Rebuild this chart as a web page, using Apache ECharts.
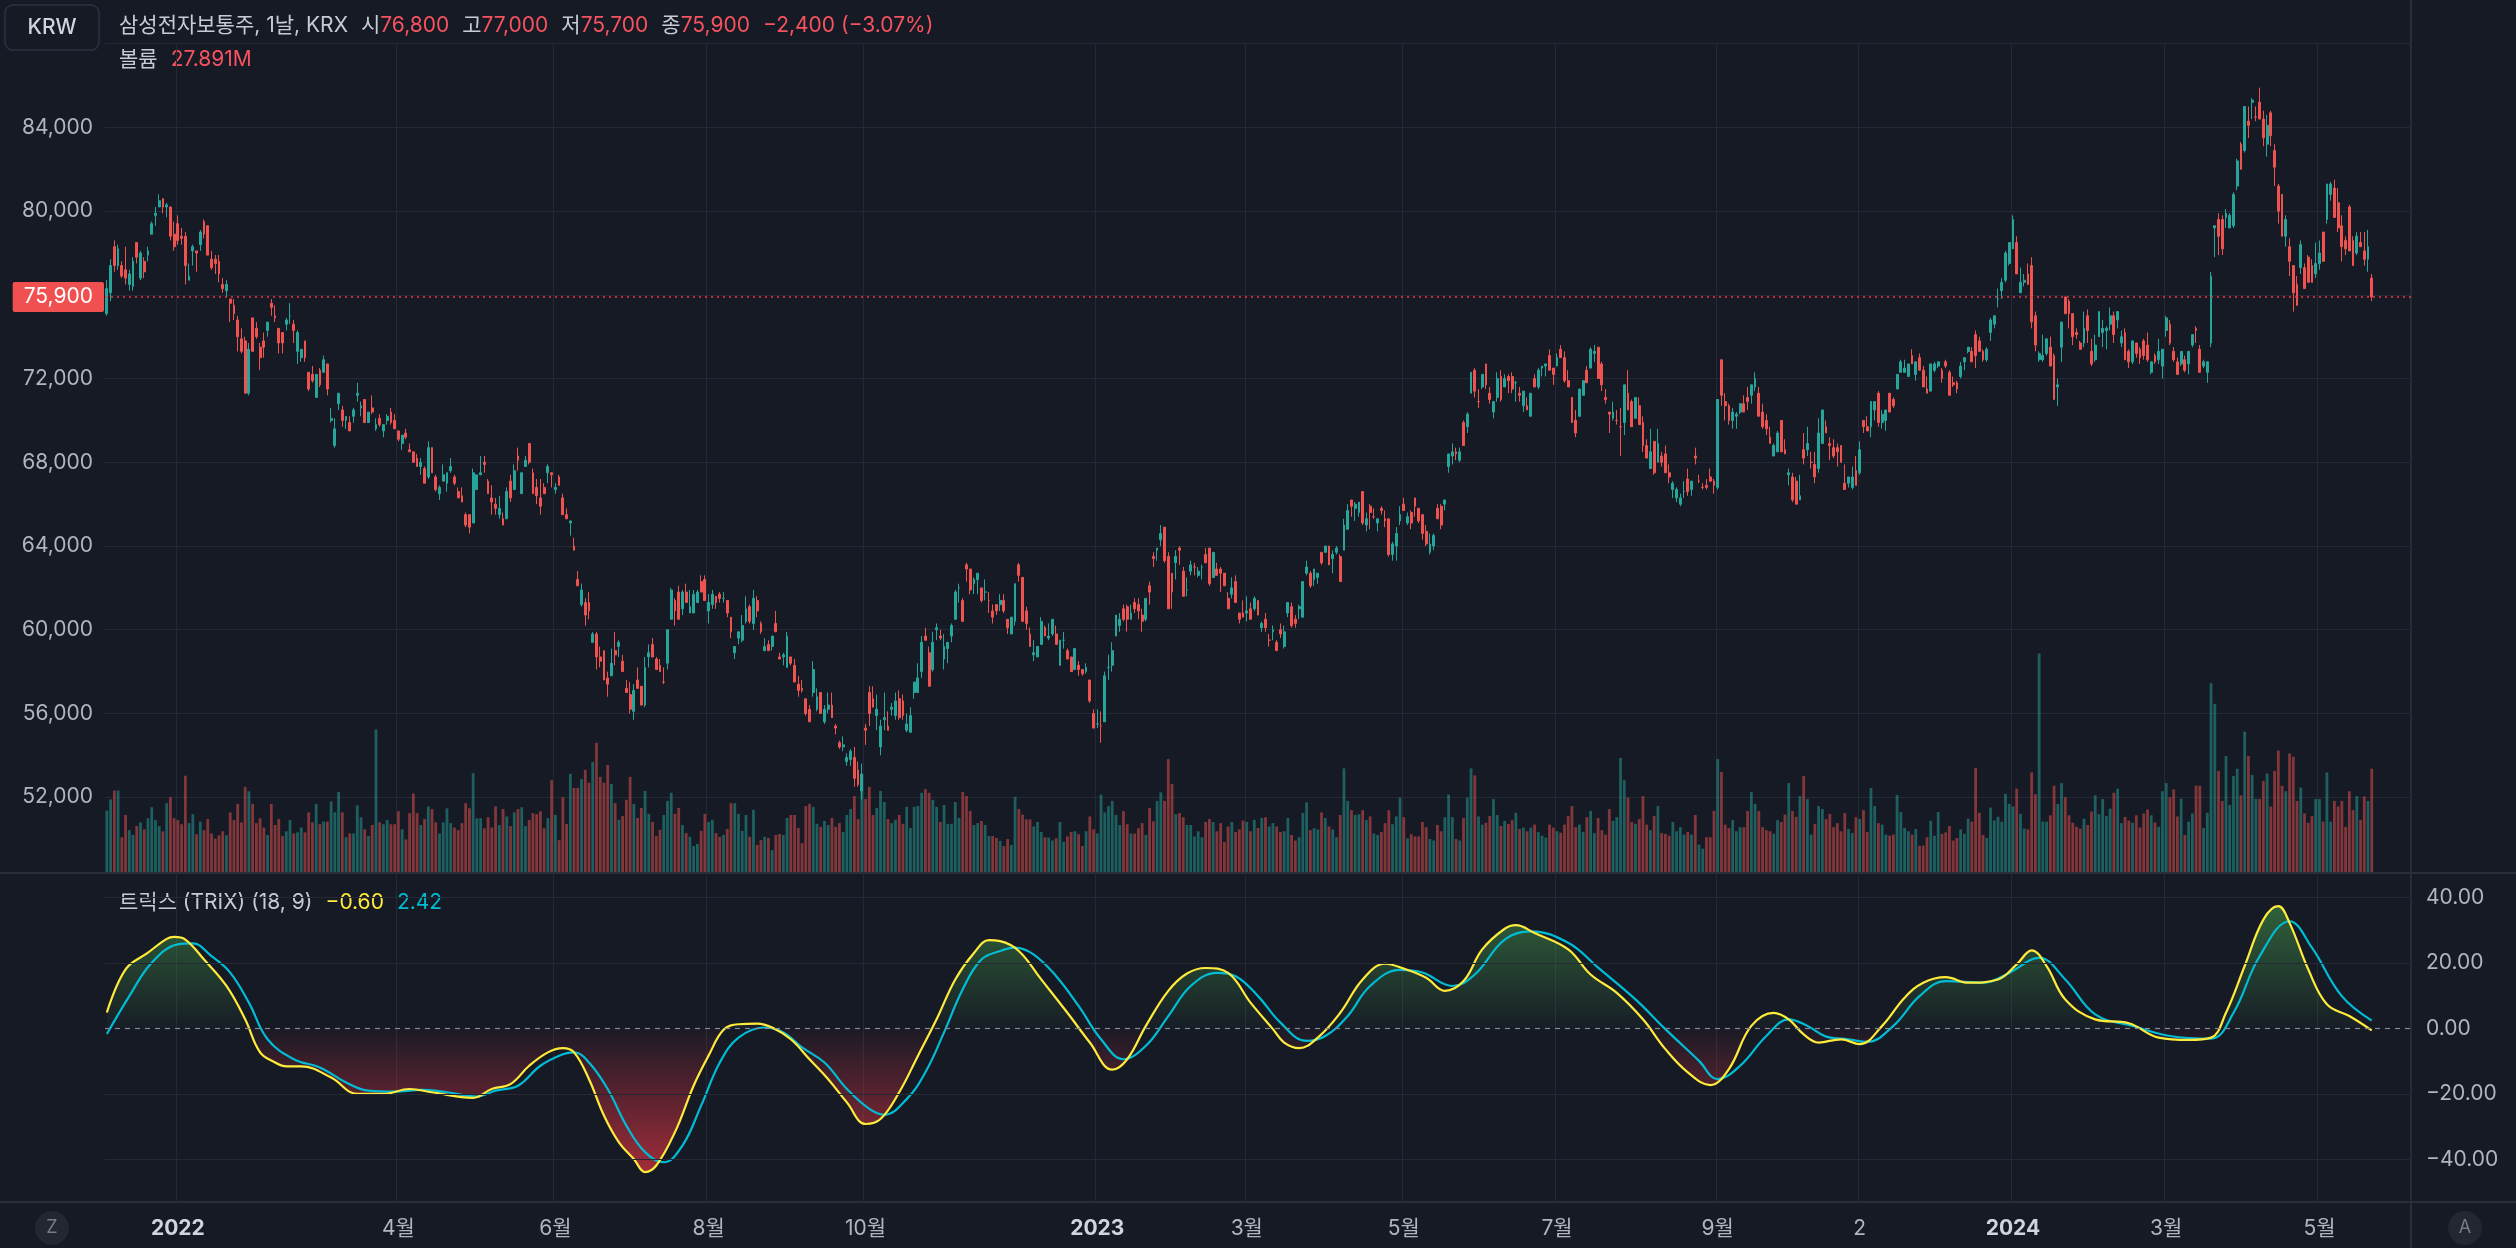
<!DOCTYPE html>
<html>
<head>
<meta charset="utf-8">
<title>삼성전자보통주 1날 TRIX</title>
<script src="https://cdn.jsdelivr.net/npm/echarts@6/dist/echarts.min.js"></script>
<style>
  html, body { margin: 0; padding: 0; background: #161a25; }
  #chart { width: 2516px; height: 1248px; }
</style>
</head>
<body>
<div id="chart"></div>
<script>
// daily prices, thousands of KRW (2021-12-06 .. 2024-05-24)
const opens = [
  75.1,76.1,78.3,77.4,77.4,77.2,76.5,76.4,78.5,76.8, 77.6,77.9,78.9,79.8,80.2,80.6,80.2,80.2,78.9,79.4,
  78.8,78.8,76.7,78.1,78.1,78.4,79.5,79.3,77.7,77.7, 77.6,76.5,76.2,75.8,75.5,74.8,73.9,73.8,71.3,74.9,
  74.4,73.5,73.8,74.3,75.6,75.0,74.4,74.2,74.6,75.0, 74.6,73.3,73.0,73.8,72.3,72.2,71.1,72.4,72.3,72.7,
  70.0,68.8,70.8,70.5,70.0,69.9,70.2,71.2,70.6,71.0, 69.9,70.6,69.6,70.1,69.5,70.0,70.4,70.0,69.5,68.9,
  69.4,68.6,68.5,68.2,67.8,67.7,67.3,68.7,67.3,66.5, 67.1,67.0,67.6,67.3,66.6,66.4,65.5,65.5,65.1,66.7,
  67.4,68.0,67.1,66.3,66.0,65.5,65.3,65.3,67.1,66.7, 68.3,66.5,67.8,68.9,67.5,66.8,66.3,66.8,67.5,67.5,
  66.7,67.3,66.3,65.5,65.1,64.0,62.4,61.2,61.3,61.3, 59.4,59.8,58.7,59.0,57.7,57.8,59.0,59.2,58.5,57.2,
  56.9,56.1,57.6,57.3,56.4,58.7,59.3,58.6,58.3,57.5, 58.4,60.5,61.4,61.8,61.0,61.8,60.8,60.8,61.3,62.3,
  62.4,60.9,61.2,61.6,61.7,61.5,61.4,60.6,58.9,59.6, 59.5,60.4,61.1,60.3,61.4,60.3,59.0,59.3,59.2,60.3,
  58.7,58.7,58.2,58.7,58.3,57.4,57.2,56.7,56.2,57.0, 56.2,57.0,55.6,56.2,56.4,55.4,54.6,54.4,53.7,53.8,
  53.9,53.3,52.3,55.3,57.0,56.7,55.9,54.4,55.7,55.4, 56.2,55.9,56.7,56.6,55.2,55.1,57.0,57.0,58.0,59.7,
  58.9,58.1,60.0,59.7,58.6,59.1,59.7,60.5,62.0,61.4, 63.1,62.9,62.2,62.4,62.0,61.8,61.4,60.9,61.2,61.2,
  61.4,60.5,59.8,60.4,63.1,62.5,60.9,59.8,58.8,58.7, 59.3,60.1,59.6,59.8,59.8,58.3,59.5,59.0,58.7,58.1,
  58.3,58.1,58.0,57.6,56.0,55.5,55.4,55.6,58.2,58.3, 59.7,60.2,61.0,61.1,60.5,61.3,61.2,60.7,60.5,62.1,
  63.5,63.8,64.3,64.9,63.5,62.7,63.2,63.9,62.8,61.9, 62.8,63.0,62.6,63.0,63.6,63.9,62.5,62.9,62.9,62.7,
  61.5,61.7,62.3,60.8,60.8,60.8,61.0,61.0,61.4,60.1, 60.5,59.5,59.9,59.4,60.0,59.2,60.8,61.1,60.5,61.0,
  60.6,62.7,62.7,62.4,62.5,63.7,63.7,64.0,63.4,63.7, 63.5,63.8,64.8,66.2,65.8,65.6,66.6,65.0,65.9,65.4,
  65.1,65.8,65.3,65.3,63.6,64.0,65.2,66.0,65.1,65.6, 66.3,65.8,65.5,64.7,63.7,64.0,65.8,65.9,66.0,67.8,
  68.3,68.5,68.1,69.9,69.7,71.3,72.4,70.9,71.6,72.7, 71.3,70.4,71.1,72.1,71.6,72.1,72.1,71.8,71.3,70.7,
  70.7,70.2,72.0,71.6,72.5,72.6,73.1,72.5,72.6,73.4, 73.0,71.9,71.1,70.0,70.2,71.2,72.4,72.5,73.2,73.5,
  72.7,71.1,70.4,70.1,70.0,69.7,69.9,71.3,70.9,70.1, 70.7,69.9,68.8,67.7,69.0,68.0,68.3,68.4,67.5,66.7,
  66.3,66.0,66.6,67.2,66.7,68.3,67.1,66.8,66.9,67.3, 67.1,66.8,72.9,70.9,70.7,70.0,70.2,70.4,70.8,71.1,
  71.2,71.6,71.3,70.4,70.0,69.2,68.3,68.5,70.0,68.6, 67.4,67.3,67.1,66.2,68.6,68.6,68.0,67.9,67.7,68.9,
  69.7,68.9,68.7,68.7,68.8,67.0,67.0,66.8,67.6,67.5, 70.0,69.7,69.7,70.5,71.3,69.9,70.0,71.3,71.0,71.5,
  72.3,72.3,72.1,73.1,72.2,73.0,72.4,71.5,71.4,72.4, 72.6,72.4,72.8,72.3,71.8,71.8,72.1,72.8,73.3,73.3,
  74.1,73.8,73.3,72.9,74.2,74.6,75.8,76.2,76.7,77.5, 78.2,78.5,76.1,76.6,77.0,77.4,75.0,72.9,72.9,73.2,
  73.5,73.1,71.6,73.5,75.9,75.7,75.1,74.2,73.7,73.7, 75.0,73.3,72.9,74.0,74.2,74.3,74.6,75.0,74.8,73.7,
  74.2,73.3,72.8,73.7,73.4,73.8,73.6,72.3,73.1,72.9, 72.6,74.3,74.6,73.3,72.8,72.7,72.9,72.7,73.6,74.4,
  73.4,72.6,72.3,73.7,79.2,79.6,79.6,79.7,79.2,79.3, 81.2,83.2,82.9,84.3,85.2,84.5,85.2,84.4,83.2,84.7,
  82.9,81.2,80.8,78.8,78.3,77.4,76.5,77.3,77.3,77.8, 77.4,77.0,77.5,79.0,79.6,80.8,81.1,80.4,79.3,78.6,
  80.2,78.6,78.0,78.5,78.1,77.7,76.8
];
const highs = [
  76.7,77.7,78.6,78.4,77.6,78.3,77.2,77.8,78.5,78.1, 77.8,78.3,79.5,80.2,80.8,80.6,80.4,80.2,79.5,79.8,
  79.2,79.0,77.5,78.4,78.1,79.1,79.6,79.3,78.1,77.9, 77.9,76.8,76.7,75.8,75.8,75.0,74.4,74.0,73.7,74.9,
  74.7,73.7,74.2,74.7,75.8,75.5,74.4,74.2,74.9,75.6, 74.8,74.3,73.4,73.8,72.3,72.6,72.2,72.5,73.1,72.7,
  70.6,70.1,71.3,70.7,70.2,70.2,70.6,71.8,70.9,71.0, 70.4,71.2,70.1,70.3,69.8,70.3,70.6,70.3,69.5,69.3,
  69.6,68.9,68.5,68.4,68.2,67.8,69.0,68.7,67.4,66.9, 67.9,67.5,68.2,67.4,66.8,66.8,65.6,65.5,67.7,67.4,
  68.3,68.3,67.2,66.9,66.3,66.4,65.6,66.8,67.4,67.9, 68.7,67.5,68.3,68.9,67.7,67.2,67.2,67.0,67.9,67.5,
  67.0,67.4,66.5,65.8,65.2,64.4,62.8,62.2,61.5,61.8, 59.9,59.9,59.2,59.0,58.0,59.1,59.9,59.5,58.8,57.6,
  57.5,57.4,58.2,57.3,58.7,59.3,59.6,58.7,58.6,58.2, 60.0,62.0,61.5,62.1,61.9,62.2,61.9,61.9,61.9,62.6,
  62.6,61.7,61.9,61.6,61.8,61.8,61.4,60.6,59.2,59.9, 60.7,61.6,61.2,61.9,61.6,60.4,59.6,59.5,59.7,60.9,
  58.9,58.9,59.9,58.7,58.6,57.8,57.6,56.7,56.4,58.5, 57.2,57.0,56.4,57.0,57.0,55.5,54.7,54.9,54.1,54.3,
  54.4,53.7,53.6,55.5,57.3,57.3,56.9,55.7,57.0,56.1, 56.5,57.0,57.1,56.9,56.0,56.3,57.5,58.4,59.7,60.1,
  59.2,59.9,60.3,60.0,59.8,59.4,60.3,61.9,62.2,61.5, 63.2,62.9,62.5,62.7,62.0,62.4,61.8,61.2,61.2,61.7,
  61.7,60.5,60.6,62.2,63.2,62.5,61.1,60.1,59.5,59.2, 60.6,60.2,60.3,60.5,60.2,59.5,59.9,59.1,58.7,59.1,
  58.5,58.1,58.4,57.6,56.2,56.2,56.1,58.0,58.8,59.4, 60.7,60.8,61.2,61.2,61.2,61.5,61.5,61.0,61.5,62.3,
  63.7,63.9,65.0,64.9,63.7,62.7,63.8,64.0,63.0,62.5, 63.3,63.2,63.0,63.1,63.9,63.9,63.7,63.2,63.0,62.7,
  61.8,62.5,62.6,60.8,61.4,61.6,61.3,61.6,61.4,60.4, 60.8,59.8,60.2,59.5,60.3,60.2,61.3,61.3,60.7,61.2,
  62.3,63.3,62.8,62.9,62.7,63.7,64.0,64.0,63.8,64.0, 63.6,65.3,66.0,66.2,66.1,66.1,66.6,65.6,66.0,65.8,
  65.3,65.9,65.7,65.3,64.2,64.9,65.9,66.3,65.6,65.7, 66.3,65.8,65.5,65.0,64.6,64.6,66.0,66.0,66.2,68.4,
  68.9,68.7,68.7,70.0,70.4,72.3,72.5,71.5,72.2,72.7, 71.6,70.9,72.3,72.4,72.2,72.2,72.3,71.9,71.6,71.4,
  71.1,71.3,72.2,72.5,72.6,72.7,73.4,72.5,73.2,73.6, 73.3,72.4,71.1,70.5,71.5,71.9,72.6,73.5,73.6,73.5,
  72.8,71.5,70.4,70.9,70.5,70.6,71.7,72.4,71.0,71.1, 71.1,70.2,69.1,69.6,69.0,69.6,68.5,68.8,67.9,67.1,
  66.8,66.5,67.1,67.7,67.1,68.7,67.4,67.0,67.2,67.7, 67.2,71.0,72.9,71.3,70.8,70.6,70.4,70.8,71.2,71.6,
  71.7,72.3,71.6,70.8,70.3,69.7,68.9,69.5,70.0,69.1, 67.7,67.5,67.3,67.4,69.4,69.7,68.5,68.5,70.1,70.5,
  70.0,69.2,69.1,68.9,68.8,67.9,67.3,67.8,68.3,69.0, 70.0,70.2,70.9,70.9,71.4,70.5,70.5,71.3,71.1,72.2,
  72.9,72.9,72.7,73.4,72.8,73.2,72.6,72.1,72.7,72.8, 72.8,72.5,72.9,72.4,72.1,71.9,72.8,73.0,73.5,73.5,
  74.3,74.0,73.4,73.5,74.9,75.0,76.3,76.8,78.1,78.5, 79.8,78.8,77.3,77.0,77.5,77.8,75.2,73.3,74.1,73.9,
  74.0,73.2,72.0,74.7,75.9,75.8,75.1,74.4,73.8,75.2, 75.3,73.9,74.1,75.2,74.8,74.5,75.4,75.2,75.2,74.3,
  74.4,73.4,73.8,73.7,73.5,73.9,74.2,72.8,73.2,73.9, 73.4,75.0,74.8,73.5,73.0,73.3,73.1,73.3,74.1,74.5,
  73.6,72.9,72.8,77.1,79.3,79.9,79.8,80.1,79.9,80.9, 82.5,83.3,85.0,85.0,85.4,85.0,85.9,84.8,84.6,84.8,
  83.2,81.3,80.8,79.8,78.7,77.4,76.9,78.6,77.5,77.9, 77.7,78.5,78.6,79.0,81.3,81.4,81.5,81.1,79.8,78.8,
  80.3,78.8,79.0,79.0,79.0,79.1,77.0
];
const lows = [
  75.0,75.7,77.1,77.2,76.8,76.5,76.2,76.2,77.5,76.7, 76.8,77.6,78.9,79.3,80.2,79.9,79.7,78.6,78.1,78.4,
  78.4,76.5,76.7,77.4,77.1,78.1,78.7,77.9,77.2,77.0, 76.6,76.1,75.9,74.7,74.8,73.3,73.2,71.3,71.2,73.3,
  73.9,72.4,73.0,74.0,75.0,74.7,73.2,73.2,74.3,74.6, 73.7,72.7,72.8,72.8,71.4,71.8,71.1,71.6,72.3,71.2,
  69.9,68.7,70.5,69.7,69.6,69.5,69.9,70.9,70.2,69.9, 69.9,70.3,69.5,69.7,69.2,69.8,69.8,69.6,69.0,68.6,
  69.1,68.5,68.0,67.8,67.4,67.0,67.2,67.5,66.6,66.2, 67.1,66.6,67.5,66.9,66.3,66.1,64.9,64.6,65.1,66.7,
  67.4,67.5,66.5,65.5,65.5,65.3,65.0,65.3,66.1,66.7, 67.6,66.5,67.8,67.9,66.5,66.0,65.5,66.5,67.0,66.8,
  66.5,66.9,65.5,65.3,64.5,63.8,62.1,61.1,60.2,60.5, 59.4,58.1,58.2,57.6,56.8,57.8,58.3,58.7,58.0,57.0,
  56.0,55.7,57.2,56.4,56.3,58.2,58.7,58.1,58.0,57.4, 58.1,60.5,60.2,60.5,60.7,61.3,60.8,60.8,61.3,61.8,
  61.4,60.3,61.0,61.0,61.3,61.3,60.6,59.6,58.6,59.3, 59.4,60.3,60.3,60.0,60.6,59.8,59.0,59.0,59.0,59.9,
  58.6,58.3,58.2,58.3,57.5,56.8,57.0,55.9,55.6,56.8, 56.1,56.0,55.5,56.0,55.8,55.0,54.3,54.2,53.5,53.5,
  52.5,52.5,51.9,54.5,55.4,56.3,55.2,54.0,55.2,55.2, 55.9,55.7,55.7,55.7,55.1,55.1,56.7,57.0,57.7,59.5,
  57.3,58.0,59.5,59.5,58.1,58.4,59.4,60.5,61.3,60.4, 62.3,61.7,61.7,61.7,61.3,61.4,60.8,60.3,60.7,60.9,
  60.8,59.8,59.8,60.2,62.3,60.4,60.0,59.2,58.5,58.7, 59.3,59.7,59.5,59.7,59.3,58.3,59.1,58.6,58.0,58.1,
  57.8,57.8,57.9,56.5,55.3,55.3,54.6,55.6,57.6,58.0, 59.7,59.9,60.4,59.9,60.5,60.8,60.5,59.9,60.4,61.2,
  63.0,63.3,64.0,63.2,61.0,61.0,62.4,63.1,61.6,61.6, 62.6,62.6,62.5,62.4,63.2,62.1,62.5,62.6,61.8,62.1,
  61.0,61.5,61.3,60.3,60.6,60.4,60.5,60.9,60.7,59.9, 59.9,59.2,59.5,59.0,59.6,59.1,60.6,60.1,60.1,60.5,
  60.6,62.6,62.0,62.1,62.2,63.1,63.7,63.1,62.7,63.6, 62.3,63.8,64.8,65.4,65.2,65.4,65.0,64.7,64.8,65.3,
  64.7,65.5,64.9,63.5,63.3,63.3,65.0,65.7,65.0,64.8, 65.4,65.1,64.3,64.0,63.6,63.8,65.3,64.8,65.7,67.5,
  67.9,68.1,68.0,68.8,69.4,71.3,71.1,70.6,71.5,71.5, 70.8,70.1,70.9,70.9,71.6,71.3,71.3,70.9,70.9,70.4,
  70.5,70.2,71.6,71.5,72.1,72.1,72.4,71.7,72.6,73.0, 71.8,71.6,69.9,69.2,70.2,71.2,71.8,72.5,72.8,72.0,
  71.4,70.8,69.4,70.0,69.8,68.3,69.3,70.5,69.7,70.1, 69.8,68.5,68.2,67.7,67.4,68.0,67.8,67.5,67.0,66.3,
  66.1,65.9,66.3,66.4,66.4,67.9,67.0,66.7,66.7,67.1, 66.5,66.7,70.7,70.0,69.8,69.6,69.6,70.3,70.4,70.5,
  70.8,71.4,70.2,69.6,69.3,68.9,68.3,68.5,68.5,68.4, 66.9,66.1,66.0,66.2,67.9,68.3,67.7,67.0,67.5,68.9,
  69.4,68.1,68.2,67.8,68.0,66.7,66.8,66.7,66.9,67.4, 69.4,69.5,69.2,70.0,69.7,69.6,69.5,70.4,70.6,71.5,
  72.3,72.3,72.1,72.7,71.9,72.4,71.6,71.3,71.4,72.3, 72.5,71.8,72.5,71.2,71.6,71.3,72.0,72.4,73.2,72.8,
  72.5,73.3,72.8,72.8,73.8,74.4,75.4,75.8,76.6,77.4, 78.2,77.0,76.1,76.4,76.5,74.4,73.3,72.8,72.8,73.1,
  72.6,71.0,70.7,72.8,75.1,74.4,73.6,73.9,73.4,73.5, 73.7,72.6,72.8,74.0,73.5,73.4,74.3,73.7,74.4,73.5,
  72.9,72.5,72.7,73.0,72.7,72.9,72.8,72.2,72.7,72.7, 72.0,74.0,73.6,72.8,72.2,72.6,72.3,72.2,73.5,73.7,
  72.3,72.5,71.8,73.5,77.8,77.9,77.9,79.2,79.2,79.2, 81.0,82.0,82.8,83.5,84.4,84.3,84.4,83.1,82.6,83.1,
  81.2,79.4,78.8,78.3,76.9,75.2,75.5,77.0,76.3,76.6, 76.6,76.8,77.2,77.6,79.4,80.5,79.7,79.0,77.6,77.9,
  78.1,77.4,77.9,78.3,77.4,77.1,75.7
];
const closes = [
  76.3,77.4,77.4,78.2,76.9,76.8,77.0,77.6,77.8,78.0, 77.1,78.1,79.4,79.9,80.5,80.2,80.3,78.8,78.3,78.6,
  78.7,77.4,76.9,78.3,78.0,79.0,78.9,77.9,77.3,77.5, 77.0,76.3,76.5,75.6,75.1,74.0,73.3,71.3,73.4,73.3,
  74.0,73.0,73.5,74.7,75.4,74.9,73.7,73.7,74.8,75.0, 74.3,74.2,73.4,73.0,71.5,71.9,72.2,71.7,72.9,71.5,
  70.1,69.6,71.3,70.0,70.2,69.5,70.5,71.3,70.7,69.9, 70.4,70.4,69.8,69.8,69.8,70.2,69.9,69.6,69.1,69.3,
  69.2,68.5,68.0,67.8,68.0,67.0,68.7,67.5,66.7,66.8, 67.4,67.5,67.8,67.0,66.3,66.1,65.0,64.9,67.5,67.4,
  67.5,67.9,66.5,66.1,65.8,65.8,65.0,66.6,66.3,67.6, 68.1,67.5,68.1,68.0,66.5,66.4,65.9,66.5,67.8,67.4,
  66.8,66.9,65.5,65.3,65.2,63.8,62.1,61.9,60.7,60.9, 59.8,58.7,58.5,57.6,57.4,58.4,58.8,59.4,58.0,57.0,
  56.2,57.1,57.2,56.4,58.2,58.9,58.7,58.1,58.0,57.5, 60.0,61.9,60.9,60.5,61.8,61.3,61.1,61.7,61.8,61.8,
  61.4,61.3,61.7,61.3,61.5,61.5,60.8,59.9,59.2,59.9, 60.2,61.0,60.4,61.5,60.9,59.9,59.2,59.0,59.7,59.9,
  58.6,58.8,59.7,58.4,57.5,57.1,57.1,56.0,55.6,58.1, 56.8,56.0,56.2,56.4,55.8,55.3,54.4,54.5,53.9,54.2,
  52.9,52.6,53.1,55.2,56.0,56.3,56.2,55.4,55.8,55.2, 56.3,56.6,55.8,55.9,55.5,55.9,57.5,57.7,59.4,59.5,
  57.3,59.4,60.1,59.6,59.2,59.4,60.2,61.8,62.0,60.4, 62.9,61.9,62.4,62.7,61.4,61.8,61.4,60.6,60.9,61.4,
  60.9,60.1,60.6,62.2,62.6,60.4,60.3,59.2,58.9,59.2, 60.4,59.7,59.7,60.5,59.3,59.5,59.5,58.6,58.0,59.1,
  58.1,57.9,58.2,56.6,55.3,55.5,55.4,57.8,58.2,59.0, 60.7,60.5,60.5,60.5,60.8,61.0,60.9,60.4,61.5,61.8,
  63.4,63.9,64.6,63.3,61.0,61.8,63.5,63.8,61.6,61.9, 63.1,63.0,62.8,63.0,63.2,62.2,63.7,62.6,62.7,62.1,
  61.0,62.0,61.3,60.5,60.6,60.9,60.5,61.5,60.7,60.3, 60.1,59.5,60.0,59.0,59.8,59.9,61.3,60.2,60.3,61.1,
  62.3,63.0,62.1,62.9,62.7,63.2,64.0,63.1,63.6,63.9, 62.3,65.0,65.7,65.9,66.0,66.1,65.1,65.3,65.6,65.4,
  65.3,65.7,65.2,63.6,64.1,64.6,65.5,65.7,65.4,65.1, 65.9,65.2,64.6,64.1,64.1,64.5,65.3,65.0,66.2,68.4,
  68.5,68.4,68.5,68.8,70.3,72.3,71.4,70.9,72.2,71.7, 71.0,70.9,72.0,71.0,72.0,71.9,71.5,71.8,71.2,71.4,
  70.5,71.3,71.6,72.4,72.6,72.7,72.4,72.2,73.0,73.0, 71.9,71.6,69.9,69.4,71.5,71.9,71.8,73.4,73.3,72.0,
  71.7,71.0,70.3,70.4,70.0,69.7,71.7,70.5,69.7,71.1, 69.8,68.8,68.2,68.5,67.5,68.9,68.0,67.5,67.3,67.0,
  66.7,66.3,66.6,66.6,67.1,68.2,67.1,66.8,66.8,67.1, 66.9,71.0,71.2,70.7,70.0,70.4,70.3,70.8,70.4,70.9,
  71.7,72.0,70.2,69.7,69.6,68.9,68.8,69.4,68.5,68.4, 67.5,66.2,66.0,66.4,68.2,68.9,68.0,67.3,69.4,70.5,
  69.4,68.8,68.3,68.5,68.0,66.7,67.3,67.3,66.9,68.6, 69.7,69.5,70.9,70.9,69.9,70.3,70.5,70.4,70.7,72.2,
  72.8,72.5,72.7,72.7,72.8,72.4,71.6,71.3,72.7,72.7, 72.8,72.0,72.6,71.2,71.7,71.5,72.6,73.0,73.5,72.8,
  73.1,73.3,72.9,73.4,74.8,75.0,75.8,76.6,78.0,78.5, 79.6,77.0,76.6,76.7,76.5,74.7,73.6,73.2,73.1,73.9,
  72.6,71.0,71.7,74.7,75.1,75.1,74.0,74.1,73.4,74.4, 74.3,72.7,73.6,75.2,74.4,74.4,75.0,74.1,75.2,74.0,
  72.9,72.8,73.8,73.2,73.0,73.1,72.9,72.8,72.8,73.3, 73.4,74.9,73.7,72.9,72.2,73.3,72.4,73.3,74.1,74.3,
  72.3,72.8,72.8,76.9,79.3,78.8,78.2,79.9,79.8,80.8, 82.4,82.0,85.0,84.1,85.3,84.5,84.4,83.5,84.1,83.6,
  82.1,80.0,78.8,79.6,77.6,76.1,75.5,78.4,76.3,76.6, 76.6,77.5,78.0,77.6,81.3,81.3,79.7,79.2,78.3,78.2,
  78.1,77.4,78.8,78.3,77.7,78.3,75.9
];
// volume, millions of shares
const volumes = [
  16.6,19.6,22,22,9.4,15.4,11.3,10,12.4,13.4, 11.5,14.5,17.5,14,12.4,11,18.6,20.2,14.5,14,
  12.9,26,13.2,15.6,10.2,13.6,11.3,14.3,10.4,9, 9.9,11,9.9,16.1,14,18.4,13.4,23,21.8,18.4,
  13.2,14.5,12,10,18.4,12.7,14.3,9.7,11,14, 10.4,10.7,12,10.7,16.1,13.4,18.4,12.9,13.6,13.6,
  19.1,16.1,21.6,16.1,9.4,10.4,10.4,18,14.8,11.5, 9.7,12.7,38.5,13.4,12.9,14,12.9,12.9,16.4,11.5,
  8.8,15.9,21.2,15.9,12.7,14.3,17.7,17,13.4,10.4, 13.4,17.2,13.2,12,11.3,13.2,18.6,17.2,26.7,14.5,
  14.5,11.8,14.8,12,17.7,12.7,17,15,12.4,16.1, 17,17.5,12.4,14,15.9,15.6,16.4,11.8,14.5,24.8,
  15.4,8.6,20.2,13,26.5,22.7,22.7,25.1,27.6,24.1, 29.7,34.9,25.7,24.1,28.9,23.8,18.6,14.1,15.1,19.5,
  25.7,18.4,14.6,17.3,21.9,15.7,13.5,9.7,11.4,15.4, 19.2,21.4,15.7,17.3,12.7,10.5,9.5,7,7.6,11.1,
  15.7,13.5,14.1,10.5,9.5,10,11.6,18.6,18.6,15.7, 11.1,15.4,9.5,16.8,7.3,8.6,9.5,9.2,5.9,10,
  10.3,10,14.6,15.4,15.4,11.9,7.8,17.8,18.4,17.6, 13,12.2,13.8,12.7,14.6,12.2,13.2,10.8,15.4,17,
  20.5,14.3,26.5,19.7,23,15.4,17.3,21.9,18.9,14.3, 13.2,14.1,15.4,13,17.6,11.9,17.6,17.8,21.4,22.4,
  21.4,19.5,17.6,13.5,18.1,13,13,18.9,14.6,21.6, 20.5,16.5,12.7,13.2,13.8,12.7,9.7,9.7,9.2,8.4,
  7,8.9,7.3,20.3,17,15.5,14.2,14.2,12.3,13.5, 10.8,9.4,9.3,8.5,9.1,13.5,8.1,9.6,10.8,11,
  10.2,7,11,15,11.5,10.4,20.9,16.1,17.8,19.2, 15.4,12.7,16.4,12.9,10.4,10.4,11.8,13.2,10,17.3,
  13.7,19.2,21.5,19.2,30.5,23.8,15.6,15.9,14.8,12.7, 12.7,9.6,11,9.4,13.5,14.3,13.5,11,13.2,8.1,
  12.3,13.5,10.8,11.5,13.9,13.5,11,14.1,11.9,14.6, 14.8,12.3,13.2,12.3,10.8,11,14.6,10,8.5,9.4,
  15.9,18.8,11.3,11.8,11.5,16.1,14.6,12.3,11.5,9.4, 15.4,28,19.2,16.7,15.4,15.6,16.7,14,15,10.4,
  10,10.8,13.2,16.7,12.9,15,20.1,14.8,9.1,10.2, 9.6,9.6,13.5,12.1,8.9,8.5,12.7,11,14.8,20.9,
  14.8,8.9,8.5,14.6,20.1,28,26.1,15,12.8,13.3, 15.1,19.7,15.4,12.4,13.8,13,14,16,11.6,12,
  11,12,12.8,10.8,9.8,9.3,12.8,12,11,10.6, 12.8,15.1,17.8,12.1,12.8,10.8,14.8,16.5,10.5,14.6,
  11.3,10.1,17,13.8,14.8,30.8,24.8,20.1,13.5,13, 14.3,20.5,12.8,11.3,15.1,17.8,10.5,10.3,9.8,13.5,
  11,12.1,10.1,10.8,10.1,15.4,7.4,6.3,9.4,9.4, 16.5,30.5,27,12.8,11.9,14,11,12.1,12.1,16.5,
  21.6,18.4,16.5,12.1,11.3,11,10.3,14,13.5,15.5, 24,16.5,14.9,20.5,25.9,19.7,10.1,13,17.8,17,
  14.3,15.7,12.1,13.2,11,15.9,11.6,10.5,14.8,14.3, 16.7,10.8,22.7,17.8,13.2,12.8,10.1,9.8,10.1,20.8,
  16.2,11.9,11,10.1,11.6,7.1,7.1,9.4,13.8,9.8, 16.2,10.3,10.7,12.4,8.5,9.2,11.5,10.3,14.4,13.6,
  28.1,16,10,9.2,17.4,13.9,14.9,13.6,21.1,18.4, 17.7,22.5,15.7,11.7,11.5,26.9,21,59,13.6,13.6,
  15.3,23.3,18.4,24,20.2,15.3,13.3,12.2,11.7,14.4, 12.7,16.3,20.7,15.6,19.7,15.1,17.1,21.4,22.5,13.2,
  14.9,13.9,13.3,15.3,12,15.8,16.9,15.3,13.4,12.2, 21.8,24,20.2,22.3,15,19.8,10,13.6,15.8,23.3,
  23.3,11.9,16,51,45.4,27.3,19.2,31.3,18.1,25.9, 27.9,20.7,37.9,31.3,26.2,19.7,19.7,24.6,26.6,17.7,
  27.3,32.8,23.3,21.8,32,31.1,19.2,22.8,15.8,13.3, 15.1,19.7,19.7,13.6,26.9,13.6,19.2,17.7,19.2,12.2,
  21.8,16.7,20.5,14.1,20.4,19.2,27.891
];
// TRIX (18) and its 9-bar signal, as [bar index, value]
const trixPoints = [
  [0,4.9],[5,18.1],[11,23.2],[16,27.4],[18,28.0],[21,27.2],[26,21.1],[32,13],[37,2.8],[41,-7.3],
  [45,-10.4],[48,-11.6],[52,-11.6],[60,-15],[67,-20],[74,-20],[81,-18.5],[87,-19.5],[98,-21.2],[103,-18.5],
  [108,-17],[113,-11.4],[118,-7.3],[122,-6],[125,-7.3],[129,-15.5],[133,-26.6],[137,-34.8],[141,-39.9],[144,-43.9],
  [147,-41.9],[152,-31.7],[157,-17.5],[161,-8.3],[165,-0.4],[169,1.3],[174,1.5],[178,0.3],[183,-3.3],[188,-9.4],
  [193,-15.5],[198,-22.6],[203,-29.2],[207,-27.7],[212,-19.5],[217,-8.4],[222,2.8],[227,15],[232,23.1],[236,27],
  [239,26.7],[244,23.7],[250,15],[257,4.8],[263,-4.3],[269,-12.6],[273,-9.4],[278,0.8],[284,11.5],[289,16.8],
  [294,18.5],[300,17],[306,7.9],[312,-0.2],[315,-4.3],[319,-6],[324,-2.8],[330,4.8],[336,15],[342,19.8],
  [347,18.3],[353,15.5],[358,11.5],[363,14.5],[368,24.2],[374,30.5],[377,31.6],[382,29.2],[391,24.2],[397,16.5],
  [404,10.9],[411,2.8],[417,-6.3],[423,-13.4],[429,-17.3],[434,-12.4],[440,0.8],[446,4.8],[450,2.8],[454,-1.8],
  [458,-4.3],[464,-3.3],[469,-4.8],[475,0.8],[481,9.4],[486,14],[492,15.7],[498,14],[506,15],[511,19.6],
  [515,23.9],[519,19.1],[524,8.9],[532,2.8],[541,1.6],[549,-2.8],[557,-3.5],[563,-2.8],[567,4.8],[572,19.1],
  [577,33.3],[581,37.4],[584,32.3],[589,18.1],[594,7.4],[600,3.8],[606,-0.6]
];
const signalPoints = [
  [0,-1.7],[6,9.9],[12,20.1],[19,25.7],[23,26],[28,22.1],[33,17.1],[38,7.9],[43,-3.3],[50,-9.4],
  [57,-11.9],[64,-16.5],[70,-19],[77,-19.3],[84,-18.8],[91,-19.5],[99,-20.8],[104,-19],[110,-17.5],[116,-11.4],
  [122,-7.9],[125,-7.3],[129,-10.4],[134,-18.5],[139,-29.7],[144,-37.8],[149,-40.9],[154,-35.8],[159,-23.6],[164,-10.4],
  [169,-2.8],[176,0.3],[181,-1.2],[186,-5.8],[192,-10.4],[198,-18.5],[204,-24.6],[208,-26.4],[214,-21.6],[219,-13.4],
  [224,-1.2],[229,12],[234,21.1],[239,23.7],[243,24.7],[248,22.6],[254,16],[260,6.9],[266,-3.3],[272,-9.4],
  [278,-5.3],[284,3.8],[290,13],[297,17],[302,16],[308,9.9],[314,1.8],[321,-3.8],[326,-2.3],[332,3.8],
  [338,13],[346,17.9],[352,17.1],[360,13],[366,16.5],[374,27.2],[381,29.7],[391,26.2],[399,18.6],[409,8.9],
  [417,-0.2],[426,-9.9],[431,-15.5],[437,-11.4],[444,-2.3],[450,2.8],[455,0.8],[460,-2.5],[466,-3.3],[471,-4.1],
  [478,0.8],[485,9.9],[492,14.5],[502,14],[509,17],[517,21.6],[524,15],[532,4.3],[542,0.8],[552,-2.3],
  [563,-3.1],[569,4.8],[576,22.1],[584,32.8],[590,24.7],[598,9.9],[606,2.42]
];
// KRX closed days inside the range
const holidays = [
  '2021-12-31','2022-01-31','2022-02-01','2022-02-02','2022-03-01','2022-03-09','2022-05-05','2022-06-01',
  '2022-06-06','2022-08-15','2022-09-09','2022-09-12','2022-10-03','2022-10-10','2022-12-30','2023-01-23',
  '2023-01-24','2023-03-01','2023-05-01','2023-05-05','2023-05-29','2023-06-06','2023-08-15','2023-09-28',
  '2023-09-29','2023-10-02','2023-10-03','2023-10-09','2023-12-25','2023-12-29','2024-01-01','2024-02-09',
  '2024-02-12','2024-03-01','2024-04-10','2024-05-01','2024-05-06','2024-05-15','2024-06-06'
];
const tickDates = ['2022-01-03','2022-04-01','2022-06-02','2022-08-01','2022-10-04','2023-01-02','2023-03-02',
  '2023-05-02','2023-07-03','2023-09-01','2023-11-01','2024-01-02','2024-03-04','2024-05-02'];
const tickLabels = ['2022','4월','6월','8월','10월','2023','3월','5월','7월','9월','2','2024','3월','5월'];

const N = closes.length;
[opens, highs, lows, volumes].forEach(a => { if (a.length !== N) throw new Error('length ' + a.length + ' vs ' + N); });

// trading calendar, plus 10 empty bars of right margin
const dates = [];
const day = new Date(Date.UTC(2021, 11, 6));
while (dates.length < N + 10) {
  const s = day.toISOString().slice(0, 10);
  const wd = day.getUTCDay();
  if (wd !== 0 && wd !== 6 && !holidays.includes(s)) dates.push(s);
  day.setUTCDate(day.getUTCDate() + 1);
}
const tickMap = new Map(tickDates.map((d, i) => [d, tickLabels[i]]));
const isTick = (idx, value) => tickMap.has(value);

const UP = '#26a69a', DOWN = '#ef5350';
const GRID = '#252935', BORDER = '#2a2e39', AXIS_TEXT = '#b2b5be';
const FONT = 'Inter, "Noto Sans CJK KR", sans-serif';
const LEGEND_FONT = '21px ' + FONT;
const minus = s => s.replace('-', '\u2212');
const won = v => Math.round(v * 1000).toLocaleString('en-US');

const candles = closes.map((c, i) => [opens[i] * 1000, c * 1000, lows[i] * 1000, highs[i] * 1000]);
const volumeBars = volumes.map((v, i) => ({
  value: v,
  itemStyle: { color: closes[i] >= opens[i] ? 'rgba(38,166,154,0.5)' : 'rgba(239,83,80,0.5)' }
}));

const last = N - 1;
const chg = (closes[last] - closes[last - 1]) * 1000;
const chgPct = chg / (closes[last - 1] * 1000) * 100;
const headerText =
  '{g|삼성전자보통주, 1날, KRX}{s|}{g|시}{r|' + won(opens[last]) + '}{s|}{g|고}{r|' + won(highs[last]) +
  '}{s|}{g|저}{r|' + won(lows[last]) + '}{s|}{g|종}{r|' + won(closes[last]) + '}{s|}{r|' +
  minus(Math.round(chg).toLocaleString('en-US')) + ' (' + minus(chgPct.toFixed(2)) + '%)}';
const trixLast = trixPoints[trixPoints.length - 1][1];
const sigLast = signalPoints[signalPoints.length - 1][1];

const legendRich = {
  g: { fill: '#c8cbd3', font: LEGEND_FONT },
  r: { fill: '#f7525f', font: LEGEND_FONT },
  y: { fill: '#ffeb3b', font: LEGEND_FONT },
  c: { fill: '#00bcd4', font: LEGEND_FONT },
  s: { width: 13, font: LEGEND_FONT }
};

const chart = echarts.init(document.getElementById('chart'));
chart.setOption({
  backgroundColor: '#161a25',
  animation: false,
  textStyle: { fontFamily: FONT },
  grid: [
    { left: 105, right: 105, top: 43.7, bottom: 367.1 },  // price
    { left: 105, right: 105, top: 598, bottom: 376 },     // volume overlay
    { left: 105, right: 105, top: 873, bottom: 46 }       // TRIX pane
  ],
  xAxis: [
    {
      type: 'category', gridIndex: 0, data: dates,
      axisLine: { show: false }, axisTick: { show: false }, axisLabel: { show: false },
      splitLine: { show: true, interval: isTick, lineStyle: { color: GRID } }
    },
    { type: 'category', gridIndex: 1, data: dates, show: false },
    {
      type: 'category', gridIndex: 2, data: dates,
      axisLine: { show: false }, axisTick: { show: false },
      axisLabel: {
        interval: isTick, margin: 16, color: AXIS_TEXT, fontSize: 21, fontFamily: FONT,
        formatter: v => {
          const t = tickMap.get(v) || '';
          return /^\d{4}$/.test(t) ? '{y|' + t + '}' : t;
        },
        rich: { y: { fontWeight: 'bold', color: '#d1d4dc', fontSize: 21, fontFamily: FONT } }
      },
      splitLine: { show: true, interval: isTick, lineStyle: { color: GRID } }
    }
  ],
  yAxis: [
    {
      type: 'value', gridIndex: 0, position: 'left', min: 48000, max: 88000, interval: 4000,
      axisLine: { show: false }, axisTick: { show: false },
      axisLabel: {
        margin: 12, color: AXIS_TEXT, fontSize: 21, fontFamily: FONT,
        formatter: v => (v >= 88000 || v <= 48000 || v === 76000) ? '' : v.toLocaleString('en-US')
      },
      splitLine: { lineStyle: { color: GRID }, showMinLine: false, showMaxLine: true }
    },
    { type: 'value', gridIndex: 1, min: 0, max: 74, show: false },
    { type: 'value', gridIndex: 2, min: -53.06, max: 47.55, show: false }
  ],
  series: [
    {
      type: 'bar', name: '볼륨', xAxisIndex: 1, yAxisIndex: 1,
      data: volumeBars, barWidth: 2.8, silent: true
    },
    {
      type: 'candlestick', name: '삼성전자보통주', xAxisIndex: 0, yAxisIndex: 0,
      data: candles, large: false, barWidth: 2.3,
      itemStyle: { color: UP, color0: DOWN, borderColor: UP, borderColor0: DOWN, borderWidth: 1 },
      markLine: {
        silent: true, symbol: 'none', animation: false,
        lineStyle: { color: '#f23645', type: [2, 4], width: 1.5 },
        label: {
          show: true, position: 'start', distance: 1,
          formatter: won(closes[last]),
          color: '#fff', backgroundColor: '#f0504f', padding: [5, 11, 4, 11],
          fontSize: 21, fontFamily: FONT, borderRadius: 2
        },
        data: [{ yAxis: closes[last] * 1000 }]
      }
    },
    {
      // filled area between TRIX and zero
      type: 'line', xAxisIndex: 2, yAxisIndex: 2, data: trixPoints,
      smooth: 0.4, showSymbol: false, silent: true,
      lineStyle: { width: 0 },
      areaStyle: {
        color: {
          type: 'linear', x: 0, y: 895, x2: 0, y2: 1180, global: true,
          colorStops: [
            { offset: 0, color: 'rgba(76,175,80,0.75)' },
            { offset: 0.468, color: 'rgba(76,175,80,0.03)' },
            { offset: 0.469, color: 'rgba(242,54,69,0.03)' },
            { offset: 1, color: 'rgba(242,54,69,0.95)' }
          ]
        }
      },
      markLine: {
        silent: true, symbol: 'none', animation: false,
        lineStyle: { color: GRID, type: 'solid', width: 1 },
        label: {
          show: true, position: 'end', distance: 15, color: AXIS_TEXT, fontSize: 21, fontFamily: FONT,
          formatter: p => minus(p.value.toFixed(2))
        },
        data: [
          { yAxis: 40 }, { yAxis: 20 }, { yAxis: -20 }, { yAxis: -40 },
          { yAxis: 0, lineStyle: { color: '#868993', type: [5, 5], width: 1.2 } }
        ]
      }
    },
    {
      type: 'line', name: 'signal', xAxisIndex: 2, yAxisIndex: 2, data: signalPoints,
      smooth: 0.4, showSymbol: false, silent: true,
      lineStyle: { color: '#00bcd4', width: 2.2 }
    },
    {
      type: 'line', name: 'TRIX', xAxisIndex: 2, yAxisIndex: 2, data: trixPoints,
      smooth: 0.4, showSymbol: false, silent: true,
      lineStyle: { color: '#ffeb3b', width: 2.2 }
    }
  ],
  graphic: [
    { type: 'line', silent: true, shape: { x1: 0, y1: 873, x2: 2516, y2: 873 }, style: { stroke: BORDER, lineWidth: 2 } },
    { type: 'line', silent: true, shape: { x1: 0, y1: 1202, x2: 2516, y2: 1202 }, style: { stroke: BORDER, lineWidth: 2 } },
    { type: 'line', silent: true, shape: { x1: 2411, y1: 0, x2: 2411, y2: 1248 }, style: { stroke: BORDER, lineWidth: 2 } },
    { type: 'rect', silent: true, shape: { x: 5, y: 5, width: 94, height: 45, r: 8 }, style: { fill: '#161a25', stroke: '#2e3240', lineWidth: 1.5 } },
    { type: 'text', silent: true, x: 52, y: 28, style: { text: 'KRW', fill: '#d1d4dc', font: '500 21px ' + FONT, align: 'center', verticalAlign: 'middle' } },
    {
      type: 'text', silent: true, x: 119, y: 26,
      style: { text: headerText, font: LEGEND_FONT, verticalAlign: 'middle', rich: legendRich }
    },
    {
      type: 'text', silent: true, x: 119, y: 60,
      style: { text: '{g|볼륨}{s|}{r|' + volumes[last].toFixed(3) + 'M}', font: LEGEND_FONT, verticalAlign: 'middle', rich: legendRich }
    },
    {
      type: 'text', silent: true, x: 119, y: 903,
      style: {
        text: '{g|트릭스 (TRIX) (18, 9)}{s|}{y|' + minus(trixLast.toFixed(2)) + '}{s|}{c|' + minus(sigLast.toFixed(2)) + '}',
        font: LEGEND_FONT, verticalAlign: 'middle', rich: legendRich
      }
    },
    { type: 'circle', silent: true, shape: { cx: 52, cy: 1228, r: 17 }, style: { fill: '#232732' } },
    { type: 'text', silent: true, x: 52, y: 1228, style: { text: 'Z', fill: '#787b86', font: '18px ' + FONT, align: 'center', verticalAlign: 'middle' } },
    { type: 'circle', silent: true, shape: { cx: 2465, cy: 1228, r: 17 }, style: { fill: '#232732' } },
    { type: 'text', silent: true, x: 2465, y: 1228, style: { text: 'A', fill: '#787b86', font: '18px ' + FONT, align: 'center', verticalAlign: 'middle' } }
  ]
});
</script>
</body>
</html>
